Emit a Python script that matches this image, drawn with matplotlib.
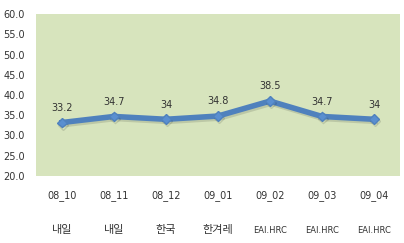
import numpy as np
import matplotlib.pyplot as plt
import matplotlib.patheffects as pe

plt.rcParams['font.family'] = ['DejaVu Sans', 'Noto Sans CJK KR']

# datos
periodos = ['08_10', '08_11', '08_12', '09_01', '09_02', '09_03', '09_04']
fuentes = ['내일', '내일', '한국', '한겨레', 'EAI.HRC', 'EAI.HRC', 'EAI.HRC']
valores = [33.2, 34.7, 34, 34.8, 38.5, 34.7, 34]
etiquetas = ['33.2', '34.7', '34', '34.8', '38.5', '34.7', '34']

fig = plt.figure(figsize=(4.04, 2.43), dpi=100)
ax = fig.add_axes([0.089, 0.276, 0.901, 0.666])
ax.set_facecolor('#d7e4bd')

x = np.arange(len(periodos))
ax.plot(x, valores, color='#4f81bd', lw=4, marker='D', ms=5,
        mfc='#5a8fd0', mec='#4f81bd', solid_joinstyle='round',
        path_effects=[pe.SimpleLineShadow(offset=(1, -1.5), alpha=0.12), pe.Normal()])

for xi, v, t in zip(x, valores, etiquetas):
    ax.annotate(t, (xi, v), xytext=(0, 7), textcoords='offset points',
                ha='center', va='bottom', fontsize=7, color='#333333')

ax.set_xlim(-0.5, len(periodos) - 0.5)
ax.set_ylim(20, 60)
ax.set_yticks(np.arange(20, 61, 5))
ax.set_yticklabels(['%.1f' % v for v in np.arange(20, 61, 5)],
                   fontsize=7, color='#333333')
ax.set_xticks(x)
ax.set_xticklabels(periodos, fontsize=7, color='#333333')
ax.tick_params(axis='both', length=0)
ax.tick_params(axis='x', pad=10)
ax.tick_params(axis='y', pad=8)
for s in ax.spines.values():
    s.set_visible(False)

trans = ax.get_xaxis_transform()
for xi, f in zip(x, fuentes):
    if f.startswith('EAI'):
        ax.text(xi, -0.335, f, transform=trans, ha='center', va='center',
                fontsize=6, color='#333333')
    else:
        ax.text(xi, -0.335, f, transform=trans, ha='center', va='center',
                fontsize=8, color='#333333')

fig.savefig('out.png', dpi=100)
